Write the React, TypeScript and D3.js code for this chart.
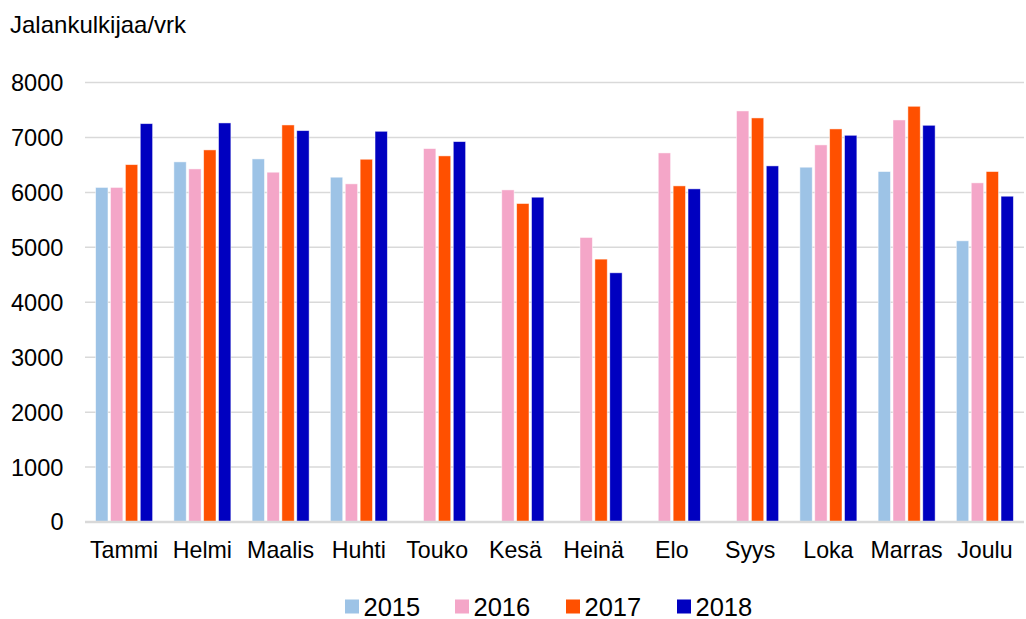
import React from "react";
import * as d3 from "d3";

const months = ["Tammi", "Helmi", "Maalis", "Huhti", "Touko", "Kesä", "Heinä", "Elo", "Syys", "Loka", "Marras", "Joulu"];
const years = ["2015", "2016", "2017", "2018"];
const colors = ["#9DC3E6", "#F4A6C8", "#FF5000", "#0000C0"];
const v2015: (number | null)[] = [6090, 6555, 6609, 6276, null, null, null, null, null, 6458, 6379, 5118];
const v2016: (number | null)[] = [6090, 6427, 6367, 6155, 6797, 6045, 5179, 6718, 7482, 6864, 7318, 6173];
const v2017: (number | null)[] = [6505, 6773, 7227, 6603, 6664, 5797, 4785, 6118, 7355, 7155, 7567, 6379];
const v2018: (number | null)[] = [7251, 7264, 7124, 7112, 6924, 5912, 4536, 6064, 6482, 7039, 7221, 5930];
const yTicks = [0, 1000, 2000, 3000, 4000, 5000, 6000, 7000, 8000];

const series = [v2015, v2016, v2017, v2018];

export default function App() {
  const W = 1026, H = 619;
  const left = 85, right = 1024, top = 82.5, bottom = 522;
  const x = d3.scaleBand<string>().domain(months).range([left, right]).paddingInner(0).paddingOuter(0);
  const y = d3.scaleLinear().domain([0, 8000]).range([bottom, top]);
  const inner = d3.scaleBand<string>().domain(years).range([-28.5, 28.5]).paddingInner(0.17);
  const font = "'Liberation Sans', Arial, sans-serif";
  const legendX = [345, 455, 566, 677];
  return (
    <svg width={W} height={H} style={{ position: "absolute", left: 0, top: 0, display: "block", background: "#fff" }} fontFamily={font}>
      <text x={10} y={33} fontSize={24} fill="#000">Jalankulkijaa/vrk</text>
      {yTicks.map((t) => (
        <g key={t}>
          {t > 0 && <line x1={left} x2={right} y1={y(t)} y2={y(t)} stroke="#D9D9D9" strokeWidth={1.5} />}
          <text x={63.5} y={y(t)} dy="0.36em" textAnchor="end" fontSize={23.6} fill="#000">{t}</text>
        </g>
      ))}
      {series.map((s, si) =>
        s.map((v, mi) =>
          v == null ? null : (
            <rect
              key={`${si}-${mi}`}
              x={(x(months[mi]) as number) + x.bandwidth() / 2 + (inner(years[si]) as number)}
              y={y(v)}
              width={inner.bandwidth()}
              height={y(0) - y(v)}
              fill={colors[si]}
              stroke="#fff"
              strokeOpacity={0.6}
              strokeWidth={0.8}
            />
          )
        )
      )}
      <line x1={left} x2={right} y1={y(0)} y2={y(0)} stroke="#D9D9D9" strokeWidth={2.5} />
      {months.map((m) => (
        <text key={m} x={(x(m) as number) + x.bandwidth() / 2} y={558} textAnchor="middle" fontSize={23.2} fill="#000">{m}</text>
      ))}
      {years.map((yr, i) => (
        <g key={yr}>
          <rect x={legendX[i]} y={599.5} width={14} height={14} fill={colors[i]} />
          <text x={legendX[i] + 18.5} y={615.5} fontSize={25.5} fill="#000">{yr}</text>
        </g>
      ))}
    </svg>
  );
}
